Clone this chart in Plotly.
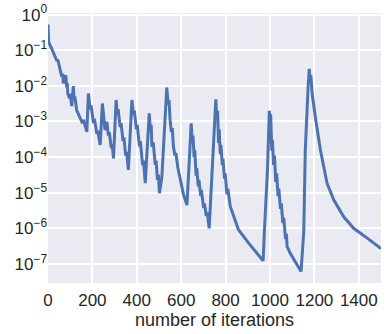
import plotly.graph_objects as go

# iteration number and loss values
iters = [0, 3, 17, 32, 40, 44, 54, 62, 66, 69, 80, 84, 87, 89, 97, 100, 107, 114, 118, 121,
         129, 144, 155, 160, 175, 182, 190, 194, 205, 209, 220, 224, 235, 245, 250, 257, 265,
         272, 276, 285, 289, 295, 307, 312, 316, 325, 329, 338, 342, 350, 354, 362, 378, 385,
         389, 398, 402, 412, 416, 426, 430, 438, 456, 462, 465, 468, 474, 483, 487, 493, 497,
         502, 513, 535, 541, 545, 550, 556, 560, 565, 572, 576, 585, 595, 610, 626, 645, 650,
         653, 658, 661, 667, 670, 677, 680, 688, 691, 701, 705, 713, 717, 726, 756, 760, 764,
         768, 771, 776, 779, 785, 788, 795, 798, 806, 810, 821, 840, 858, 904, 957, 969, 975,
         989, 997, 1000, 1003, 1008, 1011, 1016, 1020, 1026, 1030, 1036, 1040, 1047, 1051,
         1058, 1062, 1070, 1074, 1077, 1090, 1107, 1130, 1140, 1152, 1159, 1164, 1172, 1177,
         1181, 1184, 1190, 1204, 1227, 1257, 1287, 1332, 1377, 1438, 1500]
loss = [0.53, 0.17, 0.11, 0.065, 0.05, 0.055, 0.0275, 0.018, 0.022, 0.0117, 0.020, 0.009,
        0.012, 0.0061, 0.0045, 0.006, 0.0027, 0.0098, 0.004, 0.005,
        0.0021, 0.00135, 0.0009, 0.0011, 5.1e-4, 0.0061, 0.0022, 0.0028, 9e-4, 1.2e-3, 4.5e-4,
        5.5e-4, 2.18e-4, 0.0032, 1.2e-3, 5.7e-4, 9.8e-4,
        4e-4, 5e-4, 1.8e-4, 2.3e-4, 9.2e-5, 0.0040, 1.6e-3, 2.2e-3, 7e-4, 9e-4, 2.8e-4, 3.6e-4,
        1.1e-4, 1.4e-4, 4.35e-5, 0.0040, 1.5e-3,
        2e-3, 6e-4, 8e-4, 2e-4, 2.8e-4, 6e-5, 8e-5, 1.85e-5, 1.69e-3, 5e-4, 8e-4, 1.95e-4,
        2.6e-4, 6.0e-5, 8e-5, 2.29e-5, 3.2e-5,
        9.7e-6, 2.8e-5, 9.0e-3, 3e-3, 4e-3, 1.09e-3, 5e-4, 6.5e-4, 1.95e-4, 1.1e-4, 1.3e-4,
        5e-5, 2.29e-5, 9e-6, 4.5e-6, 8.8e-4, 2.5e-4,
        4e-4, 1e-4, 1.6e-4, 3e-5, 5e-5, 1.5e-5, 2.3e-5, 8e-6, 1.2e-5, 3.7e-6, 5e-6, 2.2e-6,
        2.8e-6, 1.0e-6, 4.2e-3, 1.2e-3, 2.0e-3,
        2.5e-4, 6e-4, 1.2e-4, 2.2e-4, 6e-5, 9e-5, 2.5e-5, 3.5e-5, 9e-6, 1.3e-5, 4.1e-6, 1.9e-6,
        9.1e-7, 3.85e-7, 1.47e-7, 1.23e-7, 9e-7,
        5e-5, 2.0e-3, 8e-4, 1.6e-3, 1.5e-4, 3e-4, 6e-5, 1.1e-4, 2e-5, 3.5e-5, 8e-6, 1.3e-5,
        3.5e-6, 5e-6,
        1.4e-6, 2e-6, 5e-7, 7e-7, 3.1e-7, 2.05e-7, 1.31e-7, 7.8e-8, 6.2e-8, 8e-7, 1.6e-4,
        1e-3, 0.01, 0.030,
        0.012, 0.02, 6e-3, 1.35e-3, 1.58e-4, 1.85e-5, 6.3e-6, 2.1e-6, 1.0e-6, 5.3e-7, 2.7e-7]

x_ticks = [0, 200, 400, 600, 800, 1000, 1200, 1400]
y_exps = [0, -1, -2, -3, -4, -5, -6, -7]

fig = go.Figure()

fig.add_trace(go.Scatter(
    x=iters,
    y=loss,
    mode='lines',
    line=dict(color='#4C72B0', width=3),
    showlegend=False
))

fig.update_layout(
    width=388,
    height=334,
    paper_bgcolor='white',
    plot_bgcolor='#EAEAF2',
    margin=dict(l=48, r=7, t=13, b=51),
    font=dict(family='Liberation Sans, Arial, sans-serif', color='#262626'),
    xaxis=dict(
        range=[0, 1500],
        tickvals=x_ticks,
        ticktext=[str(v) for v in x_ticks],
        tickfont=dict(size=17),
        ticklabelstandoff=5,
        gridcolor='white',
        gridwidth=1.5,
        zeroline=False,
        showline=False,
        ticks='',
        automargin=False,
        title=dict(text='number of iterations', font=dict(size=18), standoff=2)
    ),
    yaxis=dict(
        type='log',
        range=[-7.535, 0.045],
        tickvals=[10.0 ** e for e in y_exps],
        ticktext=['10<sup>%s</sup>' % str(e).replace('-', '\u2212') for e in y_exps],
        tickfont=dict(size=17),
        ticklabeloverflow='allow',
        gridcolor='white',
        gridwidth=1.5,
        zeroline=False,
        showline=False,
        ticks='',
        automargin=False
    )
)

# drop the browser's default body margin so the figure sits at the page corner
fig.write_html("out.html", config={'displayModeBar': False},
               post_script="document.body.style.margin = '0';")
